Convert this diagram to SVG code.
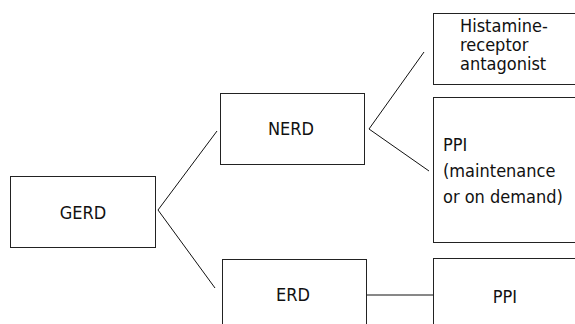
<svg xmlns="http://www.w3.org/2000/svg" width="575" height="324" viewBox="0 0 575 324">
<style>
rect{fill:#fff;stroke:#222;stroke-width:1}
line{stroke:#111;stroke-width:1}
text{font-family:"DejaVu Sans Condensed","DejaVu Sans",Verdana,sans-serif;font-stretch:condensed;font-size:18px;fill:#111}
.c{text-anchor:middle}
</style>
<rect x="0" y="0" width="575" height="324" style="stroke:none"/>
<g id="connectors">
<line x1="158" y1="210" x2="217" y2="131"/>
<line x1="158" y1="210" x2="215" y2="288"/>
<line x1="369" y1="129" x2="424" y2="52"/>
<line x1="369" y1="129" x2="429" y2="171"/>
<line x1="366" y1="295" x2="433" y2="295"/>
</g>
<g id="gerd">
<rect x="10.5" y="176.5" width="145" height="71"/>
<text class="c" x="83" y="219">GERD</text>
</g>
<g id="nerd">
<rect x="220.5" y="93.5" width="144" height="71"/>
<text class="c" x="291" y="135">NERD</text>
</g>
<g id="erd">
<rect x="222.5" y="259.5" width="144" height="80"/>
<text class="c" x="293" y="301">ERD</text>
</g>
<g id="histamine">
<rect x="433.5" y="13.5" width="160" height="71"/>
<text x="460" y="32">Histamine-</text>
<text x="460" y="51">receptor</text>
<text x="460" y="70">antagonist</text>
</g>
<g id="ppi-maint">
<rect x="433.5" y="97.5" width="160" height="145"/>
<text x="443" y="151">PPI</text>
<text x="443" y="177">(maintenance</text>
<text x="443" y="203">or on demand)</text>
</g>
<g id="ppi-erd">
<rect x="433.5" y="258.5" width="160" height="80"/>
<text class="c" x="505" y="303">PPI</text>
</g>
</svg>
